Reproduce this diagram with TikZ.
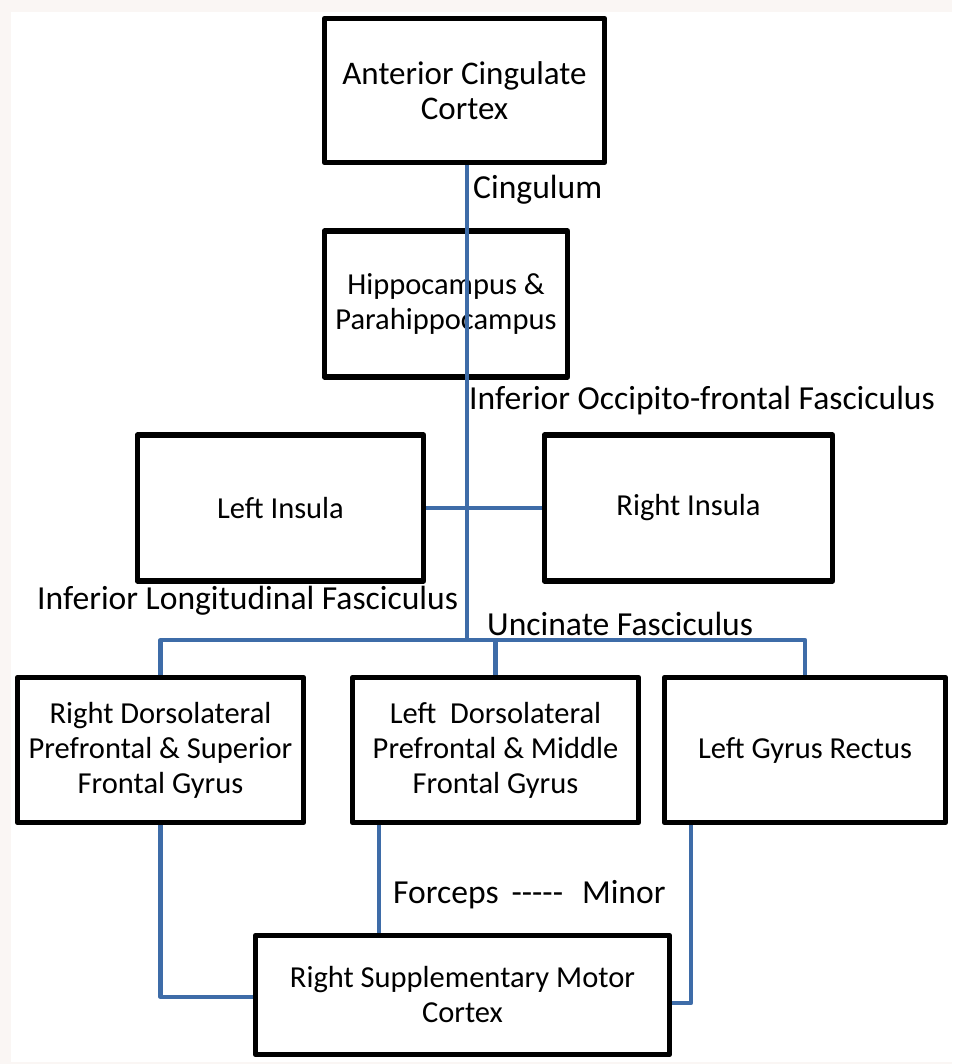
\documentclass[tikz,border=0pt]{standalone}
\usepackage{fontspec}
\setmainfont{Carlito}
\usetikzlibrary{positioning}

\definecolor{tractblue}{RGB}{62,108,168}
\definecolor{pagetint}{RGB}{250,246,244}

\begin{document}
\begin{tikzpicture}[x=1pt, y=-1pt, line join=round,
    region/.style={draw=black, line width=5.5pt, align=center, inner sep=0pt,
        font=\fontsize{30.5}{35}\selectfont, minimum width=286pt, minimum height=146pt},
    link/.style={draw=tractblue, line width=4.2pt},
    tract/.style={anchor=west, inner sep=0pt, font=\fontsize{33.6}{38}\selectfont}]
    \useasboundingbox (0,0) rectangle (952,1064);
    \fill[pagetint] (0,0) rectangle (952,1064);
    \fill[white] (11,12) rectangle (952,1062);

    % regions
    \node[region, minimum width=280pt, minimum height=144pt, font=\fontsize{33}{35}\selectfont] (acc) at (464.5,90.5) {Anterior Cingulate\\Cortex};
    \node[region, minimum width=243pt] (hip) at (446,304) {Hippocampus \&\\Parahippocampus};
    \node[region] (linsula) at (280.5,508) {Left Insula};
    \node[region, minimum width=288pt] (rinsula) at (688.5,508) {Right Insula};
    \node[region, minimum height=145pt] (rdlpfc) at (160.5,750) {Right Dorsolateral\\Prefrontal \& Superior\\Frontal Gyrus};
    \node[region, minimum height=145pt] (ldlpfc) at (495.5,750) {Left\ \ Dorsolateral\\Prefrontal \& Middle\\Frontal Gyrus};
    \node[region, minimum width=281pt, minimum height=145pt] (lgr) at (805,750) {Left Gyrus Rectus};
    \node[region, minimum width=414pt, minimum height=119pt] (rsmc) at (462.5,995) {Right Supplementary Motor\\Cortex};

    % tracts
    \node[tract] (cing) at (473,190) {Cingulum};
    \node[tract] (ioff) at (469,401) {Inferior Occipito-frontal Fasciculus};
    \node[tract] (ilf) at (37,601) {Inferior Longitudinal Fasciculus};
    \node[tract] (uf) at (487,624) {Uncinate Fasciculus};
    \node[tract] (fm) at (393,895) {Forceps\hspace{13pt}{-}{-}{-}{-}{-}\hspace{19pt}Minor};

    \coordinate (hub) at (467,640);
    \coordinate (fmtop) at ([xshift=29pt]ldlpfc.south west);
    \coordinate (grfoot) at ([xshift=-114pt]lgr.south);

    \draw[link] (acc.south -| hub) -- (hub);
    \draw[link] (linsula.east) -- (rinsula.west);
    \draw[link] (rdlpfc.north) -- (rdlpfc.north |- hub) -- (lgr.north |- hub) -- (lgr.north);
    \draw[link] (ldlpfc.north |- hub) -- (ldlpfc.north);
    \draw[link] (rdlpfc.south) |- ([yshift=-2pt]rsmc.west);
    \draw[link] (fmtop) -- (fmtop |- rsmc.north);
    \draw[link] (grfoot) |- ([yshift=-8pt]rsmc.east);
\end{tikzpicture}
\end{document}
